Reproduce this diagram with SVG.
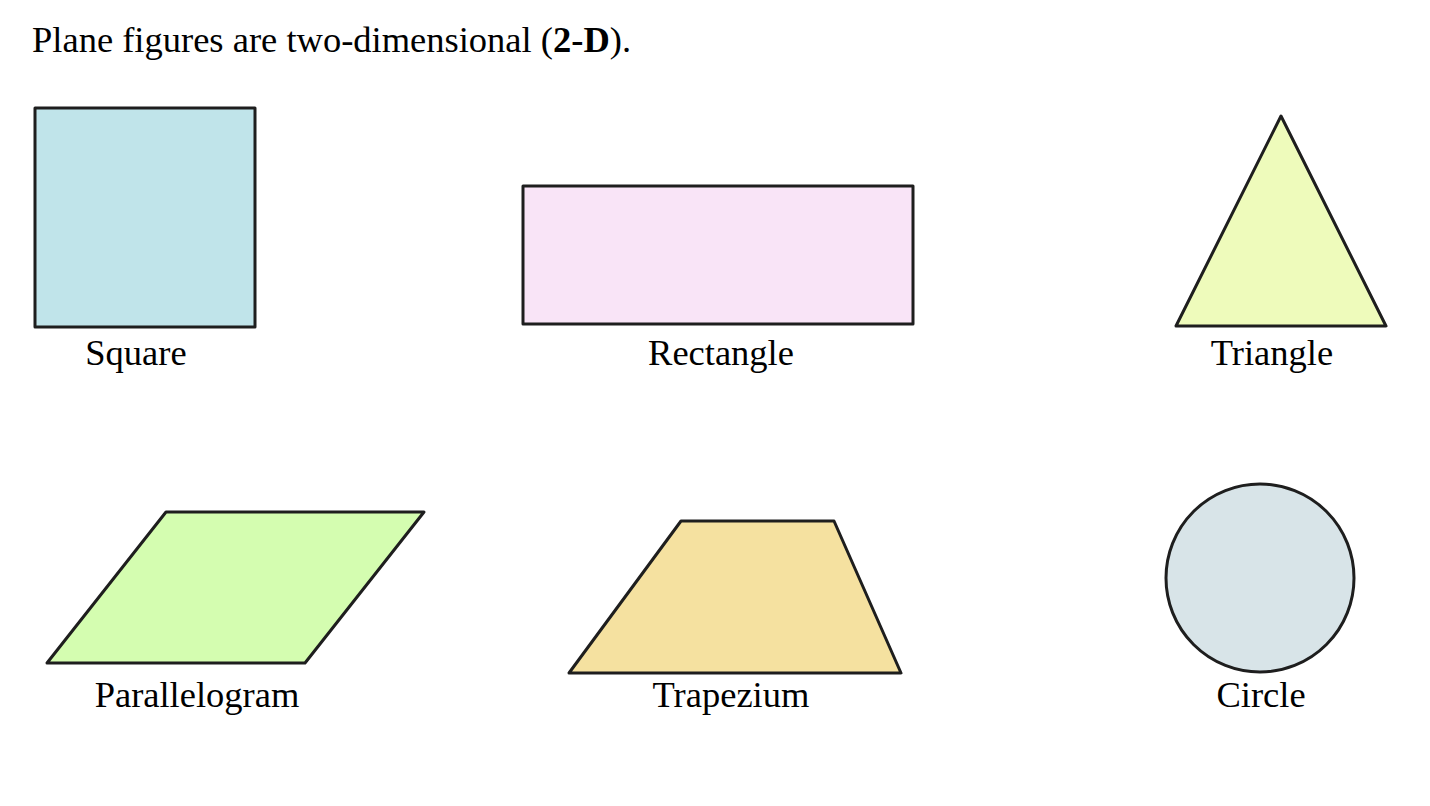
<svg xmlns="http://www.w3.org/2000/svg" width="1430" height="806" viewBox="0 0 1430 806">
<style>
.s{stroke:#1e1e1e;stroke-width:3;stroke-linejoin:round}
.t{font-family:"Liberation Serif",serif;font-size:36.5px;fill:#000}
</style>
<rect width="1430" height="806" fill="#fff"/>
<text class="t" x="32" y="52">Plane figures are two-dimensional (<tspan font-weight="bold">2-D</tspan>).</text>
<g id="square"><rect class="s" x="35" y="108" width="220" height="219" fill="#c0e4ea"/><text class="t" x="136" y="365" text-anchor="middle">Square</text></g>
<g id="rectangle"><rect class="s" x="523" y="186" width="390" height="138" fill="#f9e4f7"/><text class="t" x="721" y="365" text-anchor="middle">Rectangle</text></g>
<g id="triangle"><polygon class="s" points="1281,116 1386,326 1176,326" fill="#eefbbb"/><text class="t" x="1272" y="365" text-anchor="middle">Triangle</text></g>
<g id="parallelogram"><polygon class="s" points="47,663 166,512 424,512 305,663" fill="#d4fdb0"/><text class="t" x="197" y="707" text-anchor="middle">Parallelogram</text></g>
<g id="trapezium"><polygon class="s" points="569,673 681,521 834,521 901,673" fill="#f5e1a0"/><text class="t" x="731" y="707" text-anchor="middle">Trapezium</text></g>
<g id="circle"><circle class="s" cx="1260" cy="578" r="94" fill="#d8e4e8"/><text class="t" x="1261" y="707" text-anchor="middle">Circle</text></g>
</svg>
